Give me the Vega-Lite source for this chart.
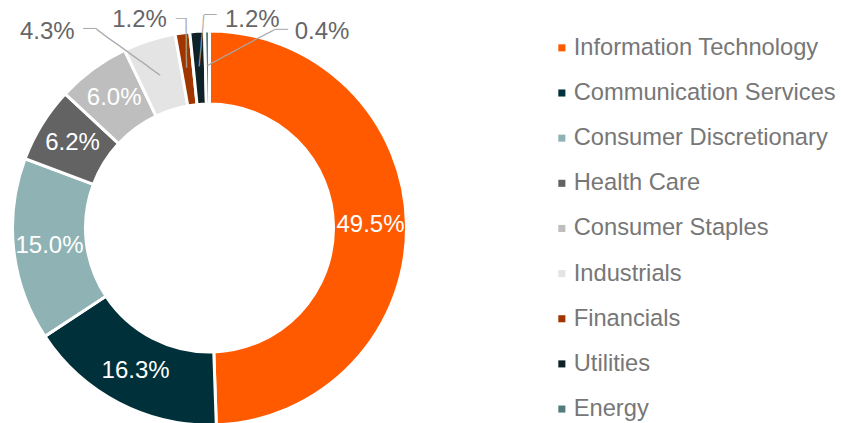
{
  "$schema": "https://vega.github.io/schema/vega-lite/v6.json",
  "width": 419,
  "height": 456,
  "autosize": {"type": "none"},
  "padding": {"left": 0, "top": 0, "right": 422, "bottom": 0},
  "background": "white",
  "config": {"view": {"stroke": null}, "font": "Liberation Sans"},
  "data": {"values": [
    {"idx": 1, "sector": "Information Technology", "value": 49.5, "label": "49.5%"},
    {"idx": 2, "sector": "Communication Services", "value": 16.3, "label": "16.3%"},
    {"idx": 3, "sector": "Consumer Discretionary", "value": 15.0, "label": "15.0%"},
    {"idx": 4, "sector": "Health Care", "value": 6.2, "label": "6.2%"},
    {"idx": 5, "sector": "Consumer Staples", "value": 6.0, "label": "6.0%"},
    {"idx": 6, "sector": "Industrials", "value": 4.3, "label": "4.3%"},
    {"idx": 7, "sector": "Financials", "value": 1.2, "label": "1.2%"},
    {"idx": 8, "sector": "Utilities", "value": 1.2, "label": "1.2%"},
    {"idx": 9, "sector": "Energy", "value": 0.4, "label": "0.4%"}
  ]},
  "encoding": {
    "theta": {"field": "value", "type": "quantitative", "stack": true},
    "order": {"field": "idx", "type": "quantitative"}
  },
  "layer": [
    {
      "mark": {"type": "arc", "outerRadius": 197, "innerRadius": 124, "stroke": "white", "strokeWidth": 3},
      "encoding": {
        "color": {
          "field": "sector", "type": "nominal",
          "scale": {
            "domain": ["Information Technology", "Communication Services", "Consumer Discretionary", "Health Care", "Consumer Staples", "Industrials", "Financials", "Utilities", "Energy"],
            "range": ["#FF5A00", "#00313A", "#8FB3B4", "#636363", "#BEBEBE", "#E4E4E4", "#A03500", "#0E2126", "#547C7C"]
          },
          "legend": {
            "title": null, "orient": "none", "legendX": 550, "legendY": 36,
            "symbolType": "square", "symbolSize": 50, "symbolStrokeWidth": 0,
            "labelFontSize": 23.7, "labelColor": "#777777", "labelFont": "Liberation Sans",
            "rowPadding": 20.15, "labelOffset": 0, "labelLimit": 400
          }
        }
      }
    },
    {
      "mark": {"type": "text", "radius": 161, "fontSize": 24, "fill": "white", "baseline": "middle", "align": "center"},
      "encoding": {"text": {"condition": {"test": "datum.value >= 5", "field": "label"}, "value": ""}}
    },
    {
      "mark": {"type": "text", "radius": 200, "dx": -101, "dy": -6, "fontSize": 24, "fill": "#666666", "baseline": "middle", "align": "center"},
      "encoding": {"text": {"condition": {"test": "datum.sector === 'Industrials'", "field": "label"}, "value": ""}}
    },
    {
      "mark": {"type": "text", "radius": 210, "dx": -41, "dy": 0, "fontSize": 24, "fill": "#666666", "baseline": "middle", "align": "center"},
      "encoding": {"text": {"condition": {"test": "datum.sector === 'Financials'", "field": "label"}, "value": ""}}
    },
    {
      "mark": {"type": "text", "radius": 210, "dx": 56, "dy": 2, "fontSize": 24, "fill": "#666666", "baseline": "middle", "align": "center"},
      "encoding": {"text": {"condition": {"test": "datum.sector === 'Utilities'", "field": "label"}, "value": ""}}
    },
    {
      "mark": {"type": "text", "radius": 200, "dx": 115, "dy": 4, "fontSize": 24, "fill": "#666666", "baseline": "middle", "align": "center"},
      "encoding": {"text": {"condition": {"test": "datum.sector === 'Energy'", "field": "label"}, "value": ""}}
    },
    {
      "mark": {"type": "text", "radius": 161, "angle": 215.7, "font": "DejaVu Sans Mono", "fontSize": 13.0, "fill": "#A6A6A6", "baseline": "middle", "align": "left"},
      "encoding": {"text": {"condition": {"test": "datum.sector === 'Industrials'", "value": "──────────"}, "value": ""}}
    },
    {
      "mark": {"type": "text", "radius": 161, "dx": -77, "dy": -45.4, "font": "DejaVu Sans Mono", "fontSize": 11.1, "fill": "#A6A6A6", "baseline": "middle", "align": "left"},
      "encoding": {"text": {"condition": {"test": "datum.sector === 'Industrials'", "value": "──"}, "value": ""}}
    },
    {
      "mark": {"type": "text", "radius": 162, "angle": 269.4, "font": "DejaVu Sans Mono", "fontSize": 13.4, "fill": "#A6A6A6", "baseline": "middle", "align": "left"},
      "encoding": {"text": {"condition": {"test": "datum.sector === 'Financials'", "value": "──────"}, "value": ""}}
    },
    {
      "mark": {"type": "text", "radius": 162, "dx": -11.5, "dy": -48.5, "font": "DejaVu Sans Mono", "fontSize": 9.1, "fill": "#A6A6A6", "baseline": "middle", "align": "left"},
      "encoding": {"text": {"condition": {"test": "datum.sector === 'Financials'", "value": "──"}, "value": ""}}
    },
    {
      "mark": {"type": "text", "radius": 162, "angle": 275.2, "font": "DejaVu Sans Mono", "fontSize": 12.2, "fill": "#A6A6A6", "baseline": "middle", "align": "left"},
      "encoding": {"text": {"condition": {"test": "datum.sector === 'Utilities'", "value": "───────"}, "value": ""}}
    },
    {
      "mark": {"type": "text", "radius": 162, "dx": 4.7, "dy": -51.3, "font": "DejaVu Sans Mono", "fontSize": 10.5, "fill": "#A6A6A6", "baseline": "middle", "align": "left"},
      "encoding": {"text": {"condition": {"test": "datum.sector === 'Utilities'", "value": "──"}, "value": ""}}
    },
    {
      "mark": {"type": "text", "radius": 162, "angle": 331.7, "font": "DejaVu Sans Mono", "fontSize": 12.6, "fill": "#A6A6A6", "baseline": "middle", "align": "left"},
      "encoding": {"text": {"condition": {"test": "datum.sector === 'Energy'", "value": "──────────"}, "value": ""}}
    },
    {
      "mark": {"type": "text", "radius": 162, "dx": 66.8, "dy": -36, "font": "DejaVu Sans Mono", "fontSize": 11.4, "fill": "#A6A6A6", "baseline": "middle", "align": "left"},
      "encoding": {"text": {"condition": {"test": "datum.sector === 'Energy'", "value": "──"}, "value": ""}}
    }
  ]
}
